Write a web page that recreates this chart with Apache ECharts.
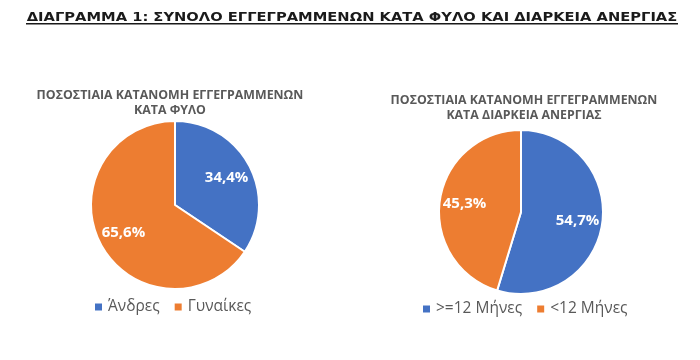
<!DOCTYPE html>
<html><head><meta charset="utf-8">
<script src="https://cdn.jsdelivr.net/npm/echarts@6/dist/echarts.min.js"></script>
<style>html,body{margin:0;padding:0;background:#fff}#c{width:700px;height:360px}</style>
</head><body><div id="c"></div>
<script>
const mainTitle = 'ΔΙΑΓΡΑΜΜΑ 1: ΣΥΝΟΛΟ ΕΓΓΕΓΡΑΜΜΕΝΩΝ ΚΑΤΑ ΦΥΛΟ ΚΑΙ ΔΙΑΡΚΕΙΑ ΑΝΕΡΓΙΑΣ';
const title1 = ['ΠΟΣΟΣΤΙΑΙΑ ΚΑΤΑΝΟΜΗ ΕΓΓΕΓΡΑΜΜΕΝΩΝ', 'ΚΑΤΑ ΦΥΛΟ'];
const title2 = ['ΠΟΣΟΣΤΙΑΙΑ ΚΑΤΑΝΟΜΗ ΕΓΓΕΓΡΑΜΜΕΝΩΝ', 'ΚΑΤΑ ΔΙΑΡΚΕΙΑ ΑΝΕΡΓΙΑΣ'];
const genderCats = ['Άνδρες', 'Γυναίκες'];
const genderVals = [34.4, 65.6];
const durationCats = ['>=12 Μήνες', '<12 Μήνες'];
const durationVals = [54.7, 45.3];
const colors = ['#4472C4', '#ED7D31'];

const chart = echarts.init(document.getElementById('c'), null, {renderer: 'canvas'});
const fmt = p => p.value.toFixed(1).replace('.', ',') + '%';
const font = '"Open Sans", "Noto Sans", sans-serif';

function pieSeries(cats, vals, center, r) {
  const data = cats.map((n, i) => ({name: n, value: vals[i], itemStyle: {color: colors[i]}}));
  return [
    {
      type: 'pie', center: center, radius: [0, r], startAngle: 90, clockwise: true,
      label: {show: false}, labelLine: {show: false},
      itemStyle: {borderColor: '#fff', borderWidth: 2},
      emphasis: {disabled: true}, silent: true,
      data: data
    },
    {
      type: 'pie', center: center, radius: [r * 0.4, r * 0.92], startAngle: 90, clockwise: true,
      label: {show: true, position: 'inside', formatter: fmt, color: '#fff', fontSize: 15, fontWeight: 'bold', fontFamily: font},
      labelLine: {show: false},
      itemStyle: {color: 'rgba(0,0,0,0)', borderWidth: 0},
      emphasis: {disabled: true}, silent: true, legendHoverLink: false,
      data: cats.map((n, i) => ({name: n, value: vals[i], itemStyle: {color: 'rgba(0,0,0,0)'}}))
    }
  ];
}

function subTitle(lines, cx, y1, y2) {
  return lines.map((t, i) => ({
    type: 'text', x: cx, y: i === 0 ? y1 : y2, scaleX: 1.03, silent: true,
    style: {text: t, x: 0, y: 0, align: 'center', verticalAlign: 'middle', textAlign: 'center', textVerticalAlign: 'middle',
            fill: '#595959', font: 'bold 12px "Open Sans", "Noto Sans", sans-serif'}
  }));
}

const legendBase = {
  orient: 'horizontal', itemWidth: 9, itemHeight: 9, itemGap: 13, icon: 'rect',
  textStyle: {color: '#595959', fontSize: 15.5, fontFamily: font}, selectedMode: false
};

chart.setOption({
  animation: false,
  color: colors,
  legend: [
    Object.assign({}, legendBase, {data: genderCats.map((n, i) => ({name: n, itemStyle: {color: colors[i]}})), left: 88, top: 294}),
    Object.assign({}, legendBase, {data: durationCats.map((n, i) => ({name: n, itemStyle: {color: colors[i]}})), left: 416, top: 296})
  ],
  graphic: [
    {type: 'text', x: 352, y: 17.5, scaleX: 1.13, silent: true,
     style: {text: mainTitle, x: 0, y: 0, align: 'center', verticalAlign: 'middle', textAlign: 'center', textVerticalAlign: 'middle',
             fill: '#1a1a1a', font: 'bold 13px "DejaVu Sans", Verdana, sans-serif'}},
    {type: 'rect', silent: true, shape: {x: 26, y: 23, width: 652, height: 1.5}, style: {fill: '#1a1a1a'}}
  ].concat(subTitle(title1, 170, 95.5, 111), subTitle(title2, 524, 100.5, 116)),
  series: [].concat(
    pieSeries(genderCats, genderVals, [175, 205], 84),
    pieSeries(durationCats, durationVals, [521, 212], 82)
  )
});
</script></body></html>
